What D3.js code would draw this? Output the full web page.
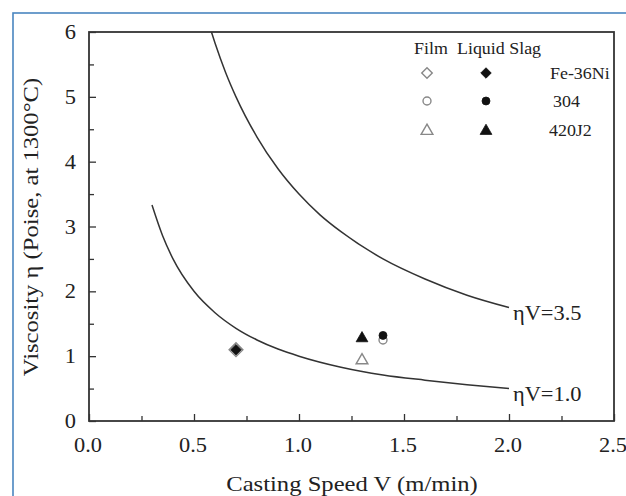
<!DOCTYPE html>
<html>
<head>
<meta charset="utf-8">
<script src="https://cdn.jsdelivr.net/npm/d3@7"></script>
<style>
  html, body { margin: 0; padding: 0; background: #fff; overflow: hidden; }
  svg { display: block; }
  text { font-family: "Liberation Serif", "Times New Roman", serif; fill: #222; }
</style>
</head>
<body>
<svg id="chart" width="626" height="496"></svg>
<script>
// ---- data ----
const xTicks = [0.0, 0.5, 1.0, 1.5, 2.0, 2.5];
const yTicks = [0, 1, 2, 3, 4, 5, 6];
// curve eta*V = 3.5
const curve35V   = [0.583, 0.6, 0.65, 0.7, 0.8, 0.9, 1.0, 1.1, 1.2, 1.4, 1.6, 1.8, 2.0];
const curve35Eta = [6.0, 5.83, 5.38, 5.0, 4.38, 3.89, 3.5, 3.18, 2.92, 2.5, 2.19, 1.94, 1.75];
// curve eta*V = 1.0
const curve10V   = [0.3, 0.35, 0.4, 0.5, 0.6, 0.7, 0.8, 0.9, 1.0, 1.2, 1.4, 1.6, 1.8, 2.0];
const curve10Eta = [3.33, 2.86, 2.5, 2.0, 1.67, 1.43, 1.25, 1.11, 1.0, 0.83, 0.71, 0.63, 0.56, 0.5];
const curveLabels = ["\u03B7V=3.5", "\u03B7V=1.0"];
// measured points
const steels     = ["Fe-36Ni", "304", "420J2"];
const shapes     = ["diamond", "circle", "triangle"];
const filmV      = [0.7, 1.4, 1.3];
const filmEta    = [1.1, 1.25, 0.95];
const slagV      = [0.7, 1.4, 1.3];
const slagEta    = [1.1, 1.32, 1.29];

// ---- layout ----
const svg = d3.select("#chart");
const L = 89, R = 614, T = 32, B = 421;
const x = d3.scaleLinear().domain([0, 2.5]).range([L, R]);
const y = d3.scaleLinear().domain([0, 6]).range([B, T]);
const SX = 1.12; // glyphs in the reference are slightly wide

// blue outer border (only top and left edges are inside the picture)
svg.append("rect").attr("x", 13).attr("y", 13).attr("width", 700).attr("height", 700)
  .attr("fill", "none").attr("stroke", "#4a86c0").attr("stroke-width", 1.6);

// curves
const line = d3.line().x(d => x(d[0])).y(d => y(d[1])).curve(d3.curveMonotoneX);
[[curve35V, curve35Eta], [curve10V, curve10Eta]].forEach(([vs, es]) => {
  svg.append("path").datum(vs.map((v, i) => [v, es[i]]))
    .attr("d", line).attr("fill", "none").attr("stroke", "#333").attr("stroke-width", 1.5);
});
// curve labels
[[curve35V, curve35Eta], [curve10V, curve10Eta]].forEach(([vs, es], i) => {
  const vx = x(vs[vs.length - 1]) + 4, vy = y(es[es.length - 1]) + 12;
  svg.append("text").attr("transform", `translate(${vx},${vy}) scale(${SX},1)`)
    .attr("font-size", 20).text(curveLabels[i]);
});

// axes
const xAxis = d3.axisBottom(x).tickValues(d3.range(0, 2.51, 0.25)).tickSize(0).tickFormat("");
const gx = svg.append("g").attr("transform", `translate(0,${B})`).call(xAxis);
gx.select(".domain").remove();
gx.selectAll(".tick line").attr("y2", (d, i) => i % 2 === 0 ? -7 : -5)
  .attr("stroke", "#333").attr("stroke-width", 1.3);
xTicks.forEach(t => {
  svg.append("text").attr("transform", `translate(${x(t) - 1},${B + 31}) scale(${SX},1)`)
    .attr("text-anchor", "middle").attr("font-size", 20).text(d3.format(".1f")(t));
});

const yAxis = d3.axisLeft(y).tickValues(d3.range(0, 6.01, 0.5)).tickSize(0).tickFormat("");
const gy = svg.append("g").attr("transform", `translate(${L},0)`).call(yAxis);
gy.select(".domain").remove();
gy.selectAll(".tick line").attr("x2", (d, i) => i % 2 === 0 ? 7 : 5)
  .attr("stroke", "#333").attr("stroke-width", 1.3);
yTicks.forEach(t => {
  svg.append("text").attr("transform", `translate(${L - 13},${y(t) + 7}) scale(${SX},1)`)
    .attr("text-anchor", "end").attr("font-size", 20).text(t);
});

// frame
svg.append("rect").attr("x", L).attr("y", T).attr("width", R - L).attr("height", B - T)
  .attr("fill", "none").attr("stroke", "#333").attr("stroke-width", 1.8);

// axis titles
svg.append("text").attr("transform", `translate(352,491) scale(${SX},1)`)
  .attr("text-anchor", "middle").attr("font-size", 22).text("Casting Speed V (m/min)");
svg.append("text").attr("transform", `translate(38,227) rotate(-90) scale(${SX},1)`)
  .attr("text-anchor", "middle").attr("font-size", 22).text("Viscosity \u03B7 (Poise, at 1300\u00B0C)");

// markers
function symPath(shape, size) {
  if (shape === "diamond") return d3.symbol(d3.symbolSquare, size)();
  if (shape === "circle") return d3.symbol(d3.symbolCircle, size)();
  return d3.symbol(d3.symbolTriangle, size)();
}
function drawMarker(cx, cy, shape, filled, big) {
  const size = shape === "diamond" ? (big ? 95 : 55) : (shape === "circle" ? 50 : 60);
  const rot = shape === "diamond" ? 45 : 0;
  const dy = shape === "triangle" ? 1 : 0;
  svg.append("path").attr("d", symPath(shape, size))
    .attr("transform", `translate(${cx},${cy + dy}) rotate(${rot})`)
    .attr("fill", filled ? "#111" : "#fff")
    .attr("stroke", filled ? "#111" : "#888")
    .attr("stroke-width", filled ? 0.8 : 1.4);
}
// film (open) then slag (filled)
steels.forEach((s, i) => {
  drawMarker(x(filmV[i]), y(filmEta[i]), shapes[i], false, true);
});
steels.forEach((s, i) => {
  drawMarker(x(slagV[i]), y(slagEta[i]), shapes[i], true, false);
});

// legend
svg.append("text").attr("transform", `translate(414,54) scale(${SX},1)`)
  .attr("font-size", 16).text("Film");
svg.append("text").attr("transform", `translate(457,54) scale(${SX},1)`)
  .attr("font-size", 16).text("Liquid Slag");
const legRows = [73, 101, 130];
const legTextX = [550, 553, 549];
steels.forEach((s, i) => {
  drawMarker(427, legRows[i], shapes[i], false, false);
  drawMarker(486, legRows[i], shapes[i], true, false);
  svg.append("text").attr("transform", `translate(${legTextX[i]},${legRows[i] + 6}) scale(${SX},1)`)
    .attr("font-size", 16).text(s);
});
</script>
</body>
</html>
